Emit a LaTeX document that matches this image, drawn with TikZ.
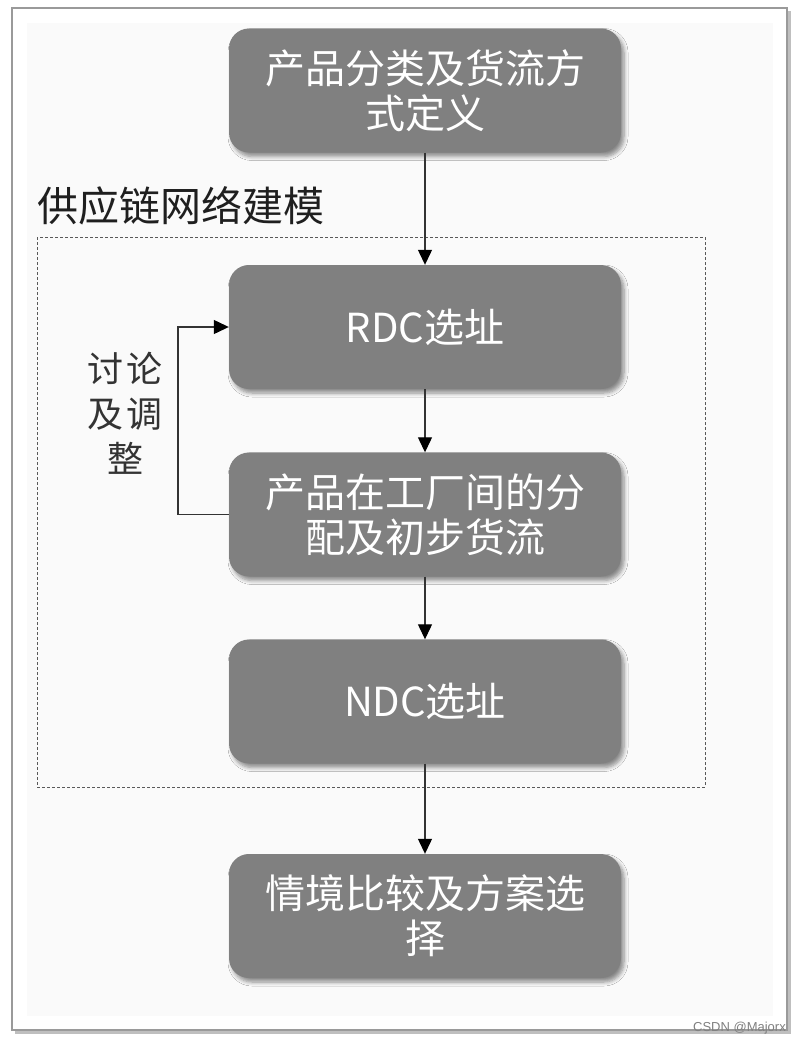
\documentclass[tikz,border=0pt]{standalone}
\usepackage{fontspec}
\newfontfamily\cjk{Noto Sans CJK SC}
\newfontfamily\wmfont{Liberation Sans}
\usetikzlibrary{arrows.meta,shadows.blur}
\definecolor{boxgray}{HTML}{808080}
\definecolor{pagebg}{HTML}{FAFAFA}
\definecolor{framegray}{HTML}{9A9A9A}
\definecolor{linegray}{HTML}{333333}
\tikzset{
  procbox/.style={draw=none, fill=boxgray, rounded corners=20pt,
    minimum width=392pt, minimum height=124pt, inner sep=0pt,
    text=white, align=center, font=\cjk\fontsize{40}{45}\selectfont,
    blur shadow={shadow xshift=3pt, shadow yshift=-4pt, shadow blur steps=6, shadow opacity=45, shadow blur radius=4pt}},
  arr/.style={draw=linegray, line width=1.2pt, -{Triangle[width=14pt,length=15pt,color=black]}},
  grouplabel/.style={font=\cjk\fontsize{41}{46}\selectfont, text=black!88, anchor=west, inner sep=0pt},
  sidelabel/.style={font=\cjk\fontsize{36}{45}\selectfont, text=black!80, align=center, inner sep=0pt},
  groupframe/.style={draw=black!65, line width=0.9pt, dash pattern=on 3pt off 2pt}
}
\begin{document}
\begin{tikzpicture}[x=1pt,y=-1pt]
\useasboundingbox (0,0) rectangle (799,1045);
% page frame
\fill[white] (0,0) rectangle (799,1045);
\fill[black!25] (15,11) rectangle (791,1034);
\draw[framegray, line width=1.2pt, fill=white] (12,8) rectangle (787,1030);
\fill[pagebg] (27,23) rectangle (773,1016);
% group frame
\draw[groupframe] (37,237) rectangle (705,787);
\node[grouplabel] (glabel) at (37,206) {供应链网络建模};
% boxes
\node[procbox] (b1) at (425,90.5) {产品分类及货流方\\式定义};
\node[procbox] (b2) at (425,327) {RDC选址};
\node[procbox] (b3) at (425,514.5) {产品在工厂间的分\\配及初步货流};
\node[procbox] (b4) at (425,701.5) {NDC选址};
\node[procbox] (b5) at (425,916) {情境比较及方案选\\择};
% connectors
\draw[arr] (b1) -- (b2);
\draw[arr] (b2) -- (b3);
\draw[arr] (b3) -- (b4);
\draw[arr] (b4) -- (b5);
\coordinate (loop) at (178,514.5);
\draw[arr] (b3.west) -- (loop) |- (b2.west);
\node[sidelabel] (side) at (125,413) {讨\hspace{4pt}论\\及\hspace{4pt}调\\整};
% watermark
\node[font=\wmfont\fontsize{13}{15}\selectfont, text=black!50, anchor=east, inner sep=0pt] (wm) at (786,1028) {CSDN @Majorx};
\end{tikzpicture}
\end{document}
